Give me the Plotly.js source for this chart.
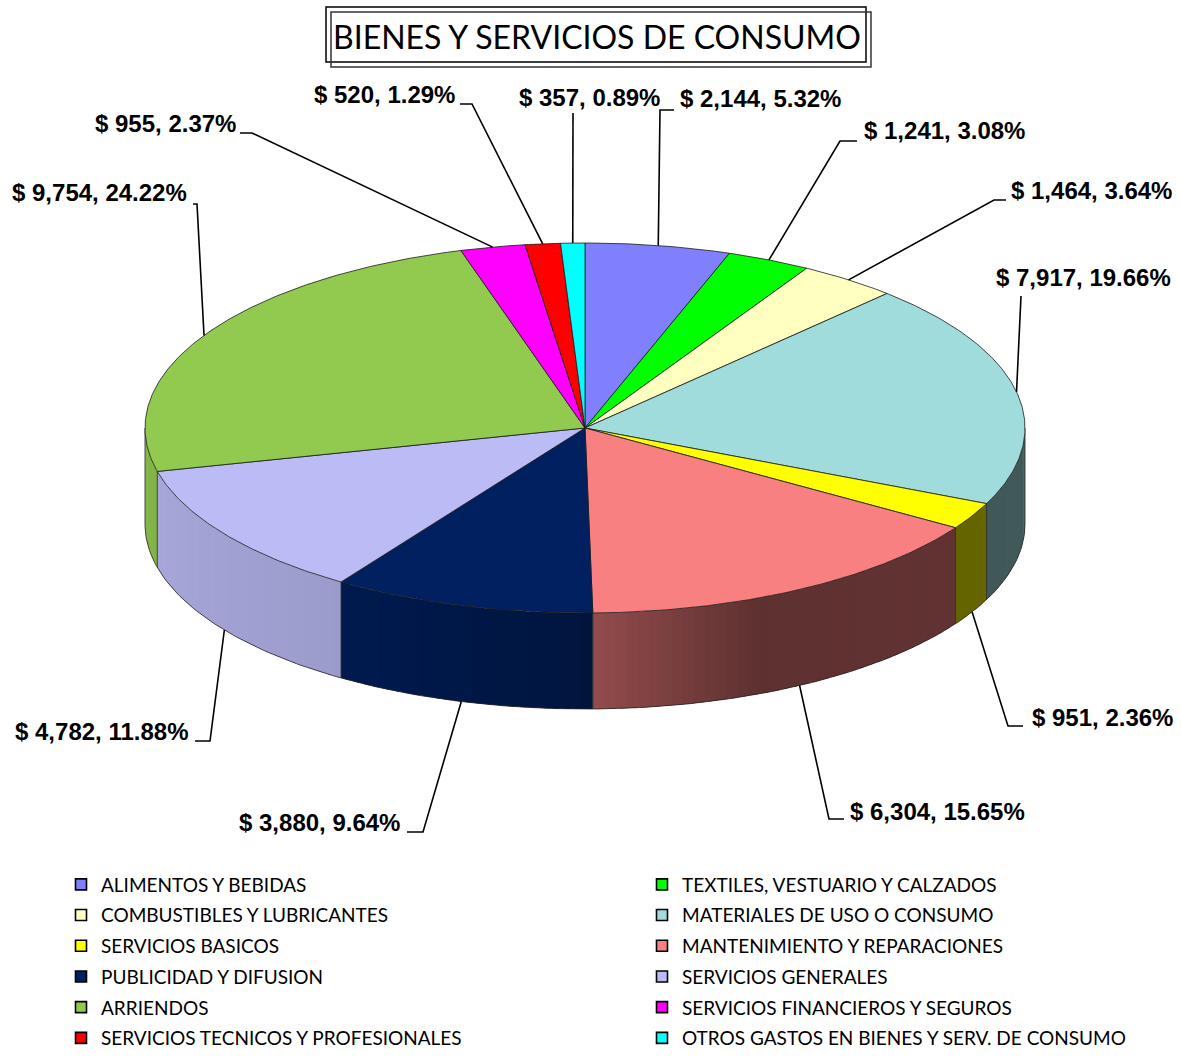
<!DOCTYPE html>
<html>
<head>
<meta charset="utf-8">
<script src="https://cdn.plot.ly/plotly-3.0.1.min.js"></script>
<style>html,body{margin:0;padding:0;background:#fff;}#chart{width:1181px;height:1059px;}</style>
</head>
<body>
<div id="chart"></div>
<script>
// ---------------- DATA ----------------
const categories = [
  "ALIMENTOS Y BEBIDAS",
  "TEXTILES, VESTUARIO Y CALZADOS",
  "COMBUSTIBLES Y LUBRICANTES",
  "MATERIALES DE USO O CONSUMO",
  "SERVICIOS BASICOS",
  "MANTENIMIENTO Y REPARACIONES",
  "PUBLICIDAD Y DIFUSION",
  "SERVICIOS GENERALES",
  "ARRIENDOS",
  "SERVICIOS FINANCIEROS Y SEGUROS",
  "SERVICIOS TECNICOS Y PROFESIONALES",
  "OTROS GASTOS EN BIENES Y SERV. DE CONSUMO"
];
const values = [2144, 1241, 1464, 7917, 951, 6304, 3880, 4782, 9754, 955, 520, 357];
const percents = [5.32, 3.08, 3.64, 19.66, 2.36, 15.65, 9.64, 11.88, 24.22, 2.37, 1.29, 0.89];
const chartTitle = "BIENES Y SERVICIOS DE CONSUMO";

// ---------------- STYLE ----------------
const colors = ["#8080FF","#00FF00","#FFFFC0","#A0DCDC","#FFFF00","#F88080",
                "#002060","#BBBBF5","#92CA50","#FF00FF","#FF0000","#00FFFF"];
// pie geometry (pixel space of the figure)
const CX = 585, CY = 428, RX = 440, RY = 185, DEPTH = 96;
const FIG_W = 1181, FIG_H = 1059;
// label layout: [x, y, xanchor], elbow [x, y], tick end x (null = none)
const labelPos = [
  [678, 98, "left"], [862, 130, "left"], [1009, 190, "left"], [1173, 277, "right"],
  [1030, 717, "left"], [848, 811, "left"], [402, 822, "right"], [190, 731, "right"],
  [189, 192, "right"], [238, 123, "right"], [457, 94, "right"], [589, 97, "center"]
];
const elbows = [
  [660,110],[840,141],[994,200],[1021,296],[1008,726],[829,819],
  [423,832],[210,741],[197,204],[252,133],[472,104],[573,113]
];
const tickEnds = [674, 857, 1006, null, 1023, 844, 407, 195, 193, 240, 460, null];

// ---------------- GEOMETRY HELPERS ----------------
const total = values.reduce((a, b) => a + b, 0);
const starts = [], ends = [];
let acc = 0;
values.forEach(v => { starts.push(acc / total * 360); acc += v; ends.push(acc / total * 360); });
const rad = d => d * Math.PI / 180;
const px = th => CX + RX * Math.sin(rad(th));
const py = (th, dy) => CY - RY * Math.cos(rad(th)) + (dy || 0);

const knots = [[90,0.41],[157,0.38],[178,0.58],[181,0.66],[214,0.83],[270,0.91]];
function shadeFactor(th){
  if (th <= knots[0][0]) return knots[0][1];
  for (let i = 1; i < knots.length; i++){
    if (th <= knots[i][0]){
      const [a, fa] = knots[i-1], [b, fb] = knots[i];
      return fa + (fb - fa) * (th - a) / (b - a);
    }
  }
  return knots[knots.length-1][1];
}
function shade(hex, f){
  const r = parseInt(hex.slice(1,3),16), g = parseInt(hex.slice(3,5),16), b = parseInt(hex.slice(5,7),16);
  return `rgb(${Math.round(r*f)},${Math.round(g*f)},${Math.round(b*f)})`;
}

const traces = [];
// side strips (front visible half: 90..270 deg); each strip overlaps the next to hide seams
values.forEach((v, i) => {
  const lo = Math.max(starts[i], 90), hi = Math.min(ends[i], 270);
  if (hi <= lo) return;
  const n = Math.max(1, Math.ceil((hi - lo) / 1.5));
  const step = (hi - lo) / n;
  for (let k = 0; k < n; k++){
    const s = lo + step * k, e = Math.min(hi, s + step * 1.6);
    const c = shade(colors[i], shadeFactor(s + step / 2));
    traces.push({
      type: "scatter", mode: "none", fill: "toself", fillcolor: c,
      x: [px(s), px(e), px(e), px(s), px(s)],
      y: [py(s), py(e), py(e, DEPTH), py(s, DEPTH), py(s)],
      hoverinfo: "skip", showlegend: false
    });
  }
});
// side outlines
(function(){
  const x = [], y = [];
  for (let t = 90; t <= 270; t += 1){ x.push(px(t)); y.push(py(t, DEPTH)); }
  x.push(null); y.push(null);
  const verts = [90, 270];
  starts.forEach(s => { if (s > 90 && s < 270) verts.push(s); });
  verts.forEach(t => { x.push(px(t), px(t), null); y.push(py(t), py(t, DEPTH), null); });
  traces.push({type:"scatter", mode:"lines", x, y, line:{color:"#222", width:0.8},
               hoverinfo:"skip", showlegend:false});
})();
// top faces
values.forEach((v, i) => {
  const x = [CX], y = [CY];
  const n = Math.max(2, Math.ceil((ends[i] - starts[i]) / 0.5));
  for (let k = 0; k <= n; k++){
    const t = starts[i] + (ends[i] - starts[i]) * k / n;
    x.push(px(t)); y.push(py(t));
  }
  x.push(CX); y.push(CY);
  traces.push({type:"scatter", mode:"lines", fill:"toself", fillcolor: colors[i],
               x, y, line:{color:"#1a1a1a", width:0.8}, hoverinfo:"skip", showlegend:false,
               name: categories[i]});
});
// leader lines
(function(){
  const x = [], y = [];
  values.forEach((v, i) => {
    const mid = (starts[i] + ends[i]) / 2;
    const front = Math.cos(rad(mid)) < 0;
    x.push(px(mid)); y.push(py(mid, front ? DEPTH : 0));
    x.push(elbows[i][0]); y.push(elbows[i][1]);
    if (tickEnds[i] !== null){ x.push(tickEnds[i]); y.push(elbows[i][1]); }
    x.push(null); y.push(null);
  });
  traces.push({type:"scatter", mode:"lines", x, y, line:{color:"#000", width:1.6},
               hoverinfo:"skip", showlegend:false});
})();
// legend entries
categories.forEach((c, i) => {
  traces.push({type:"scatter", mode:"markers", x:[-500], y:[-500], name:c,
               legend: i % 2 === 0 ? "legend" : "legend2", legendgroup: "g" + i,
               marker:{symbol:"square", size:11, color:colors[i], line:{color:"#000", width:1.6}},
               hoverinfo:"skip"});
});

// labels
const fmt = v => v.toLocaleString("en-US");
const annotations = values.map((v, i) => ({
  x: labelPos[i][0], y: labelPos[i][1], xref:"x", yref:"y",
  xanchor: labelPos[i][2], yanchor:"middle", showarrow:false,
  text: "<b>$ " + fmt(v) + ", " + percents[i].toFixed(2) + "%</b>",
  font:{family:"Liberation Sans, Arial, sans-serif", size:24, color:"#000"}
}));
annotations.push({
  x: 597, y: 36, xref:"x", yref:"y", xanchor:"center", yanchor:"middle", showarrow:false,
  text: chartTitle, font:{family:"Lato, Carlito, Calibri, sans-serif", size:32, color:"#000"}
});

const legendCommon = {
  orientation:"v", xanchor:"left", yanchor:"top", traceorder:"grouped", tracegroupgap:3.0,
  font:{family:"Lato, Carlito, Calibri, sans-serif", size:19, color:"#000"},
  bgcolor:"rgba(0,0,0,0)", borderwidth:0, itemclick:false, itemdoubleclick:false
};
const legTop = 1 - 865.5 / FIG_H;

const layout = {
  width:FIG_W, height:FIG_H, margin:{l:0, r:0, t:0, b:0},
  paper_bgcolor:"#fff", plot_bgcolor:"#fff", hovermode:false, showlegend:true,
  xaxis:{range:[0,FIG_W], visible:false, fixedrange:true},
  yaxis:{range:[FIG_H,0], visible:false, fixedrange:true},
  legend: Object.assign({}, legendCommon, {x: 61/FIG_W, y: legTop}),
  legend2: Object.assign({}, legendCommon, {x: 642/FIG_W, y: legTop}),
  annotations,
  shapes:[
    {type:"rect", xref:"x", yref:"y", x0:326, y0:7, x1:866, y1:62, line:{color:"#000", width:1.5}},
    {type:"rect", xref:"x", yref:"y", x0:331, y0:12, x1:871, y1:67, line:{color:"#333", width:1.5}}
  ]
};

Plotly.newPlot("chart", traces, layout, {staticPlot:true, displayModeBar:false});
</script>
</body>
</html>
